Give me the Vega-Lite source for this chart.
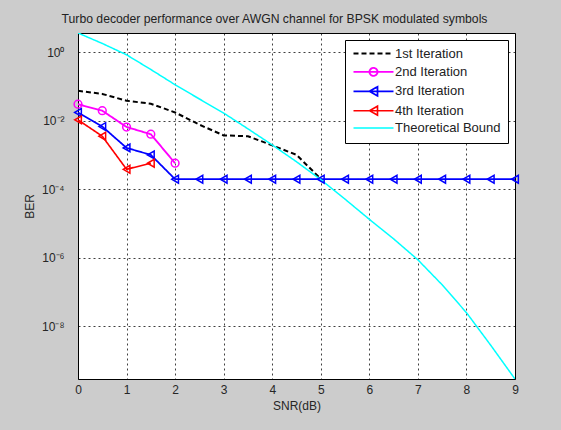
{
  "$schema": "https://vega.github.io/schema/vega-lite/v6.json",
  "width": 437,
  "height": 346,
  "autosize": {"type": "none"},
  "padding": {"left": 78, "top": 33, "right": 46, "bottom": 51},
  "background": "#cccccc",
  "title": {
    "text": "Turbo decoder performance over AWGN channel for BPSK modulated symbols",
    "font": "Liberation Sans",
    "fontSize": 12.2,
    "fontWeight": "normal",
    "color": "#222222",
    "anchor": "middle",
    "frame": "group",
    "dx": -22,
    "offset": 8
  },
  "config": {
    "view": {"stroke": "#000000", "strokeWidth": 1, "fill": "#ffffff"},
    "axis": {
      "labelFont": "Liberation Sans",
      "titleFont": "Liberation Sans",
      "labelFontSize": 12,
      "titleFontSize": 12,
      "titleFontWeight": "normal",
      "labelColor": "#262626",
      "titleColor": "#262626",
      "domain": false,
      "grid": true,
      "gridColor": "#000000",
      "gridOpacity": 0.75,
      "gridDash": [2, 3],
      "gridWidth": 1,
      "ticks": false,
      "labelFlush": false
    }
  },
  "data": {
    "values": [
      {"series": "1st Iteration", "snr": 0, "ber": 0.074},
      {"series": "1st Iteration", "snr": 0.5, "ber": 0.060},
      {"series": "1st Iteration", "snr": 1, "ber": 0.038},
      {"series": "1st Iteration", "snr": 1.5, "ber": 0.031},
      {"series": "1st Iteration", "snr": 2, "ber": 0.0173},
      {"series": "1st Iteration", "snr": 2.5, "ber": 0.0076},
      {"series": "1st Iteration", "snr": 3, "ber": 0.0037},
      {"series": "1st Iteration", "snr": 3.5, "ber": 0.0035},
      {"series": "1st Iteration", "snr": 4, "ber": 0.0019},
      {"series": "1st Iteration", "snr": 4.5, "ber": 0.001},
      {"series": "1st Iteration", "snr": 5, "ber": 0.0002},
      {"series": "2nd Iteration", "snr": 0, "ber": 0.030},
      {"series": "2nd Iteration", "snr": 0.5, "ber": 0.0194},
      {"series": "2nd Iteration", "snr": 1, "ber": 0.0065},
      {"series": "2nd Iteration", "snr": 1.5, "ber": 0.0040},
      {"series": "2nd Iteration", "snr": 2, "ber": 0.00057},
      {"series": "3rd Iteration", "snr": 0, "ber": 0.0173},
      {"series": "3rd Iteration", "snr": 0.5, "ber": 0.0067},
      {"series": "3rd Iteration", "snr": 1, "ber": 0.0016},
      {"series": "3rd Iteration", "snr": 1.5, "ber": 0.001},
      {"series": "3rd Iteration", "snr": 2, "ber": 0.000195},
      {"series": "3rd Iteration", "snr": 2.5, "ber": 0.000195},
      {"series": "3rd Iteration", "snr": 3, "ber": 0.000195},
      {"series": "3rd Iteration", "snr": 3.5, "ber": 0.000195},
      {"series": "3rd Iteration", "snr": 4, "ber": 0.000195},
      {"series": "3rd Iteration", "snr": 4.5, "ber": 0.000195},
      {"series": "3rd Iteration", "snr": 5, "ber": 0.000195},
      {"series": "3rd Iteration", "snr": 5.5, "ber": 0.000195},
      {"series": "3rd Iteration", "snr": 6, "ber": 0.000195},
      {"series": "3rd Iteration", "snr": 6.5, "ber": 0.000195},
      {"series": "3rd Iteration", "snr": 7, "ber": 0.000195},
      {"series": "3rd Iteration", "snr": 7.5, "ber": 0.000195},
      {"series": "3rd Iteration", "snr": 8, "ber": 0.000195},
      {"series": "3rd Iteration", "snr": 8.5, "ber": 0.000195},
      {"series": "3rd Iteration", "snr": 9, "ber": 0.000195},
      {"series": "4th Iteration", "snr": 0, "ber": 0.0105},
      {"series": "4th Iteration", "snr": 0.5, "ber": 0.0035},
      {"series": "4th Iteration", "snr": 1, "ber": 0.00038},
      {"series": "4th Iteration", "snr": 1.5, "ber": 0.00057},
      {"series": "Theoretical Bound", "snr": 0, "ber": 3.59},
      {"series": "Theoretical Bound", "snr": 0.5, "ber": 1.78},
      {"series": "Theoretical Bound", "snr": 1, "ber": 0.83},
      {"series": "Theoretical Bound", "snr": 1.5, "ber": 0.309},
      {"series": "Theoretical Bound", "snr": 2, "ber": 0.111},
      {"series": "Theoretical Bound", "snr": 2.5, "ber": 0.0427},
      {"series": "Theoretical Bound", "snr": 3, "ber": 0.0166},
      {"series": "Theoretical Bound", "snr": 3.5, "ber": 0.00575},
      {"series": "Theoretical Bound", "snr": 4, "ber": 0.00195},
      {"series": "Theoretical Bound", "snr": 4.5, "ber": 0.00063},
      {"series": "Theoretical Bound", "snr": 5, "ber": 0.00019},
      {"series": "Theoretical Bound", "snr": 5.5, "ber": 0.000051},
      {"series": "Theoretical Bound", "snr": 6, "ber": 0.0000132},
      {"series": "Theoretical Bound", "snr": 6.5, "ber": 0.00000355},
      {"series": "Theoretical Bound", "snr": 7, "ber": 0.00000087},
      {"series": "Theoretical Bound", "snr": 7.5, "ber": 0.000000162},
      {"series": "Theoretical Bound", "snr": 8, "ber": 0.000000025},
      {"series": "Theoretical Bound", "snr": 8.5, "ber": 0.0000000028},
      {"series": "Theoretical Bound", "snr": 9, "ber": 0.00000000029}
    ]
  },
  "encoding": {
    "x": {
      "field": "snr",
      "type": "quantitative",
      "scale": {"domain": [0, 9], "nice": false, "zero": false},
      "axis": {"values": [0, 1, 2, 3, 4, 5, 6, 7, 8, 9], "title": "SNR(dB)", "labelPadding": 5, "titlePadding": 5}
    },
    "y": {
      "field": "ber",
      "type": "quantitative",
      "scale": {"type": "log", "domain": [0.00000000029, 3.59], "nice": false},
      "axis": {
        "values": [1, 0.01, 0.0001, 0.000001, 0.00000001],
        "labelExpr": "datum.value >= 0.5 ? '10⁰' : datum.value > 0.001 ? '10⁻²' : datum.value > 0.00001 ? '10⁻⁴' : datum.value > 0.0000001 ? '10⁻⁶' : '10⁻⁸'",
        "title": "BER",
        "labelPadding": 14,
        "titlePadding": 5
      }
    },
    "color": {
      "field": "series",
      "type": "nominal",
      "scale": {
        "domain": ["1st Iteration", "2nd Iteration", "3rd Iteration", "4th Iteration", "Theoretical Bound"],
        "range": ["#000000", "#ff00ff", "#0000ff", "#ff0000", "#00ffff"]
      }
    }
  },
  "layer": [
    {
      "mark": {"type": "line", "clip": true},
      "encoding": {
        "color": {
          "field": "series",
          "type": "nominal",
          "legend": {
            "title": null,
            "orient": "top-right",
            "offset": 7,
            "padding": 7,
            "fillColor": "#ffffff",
            "strokeColor": "#000000",
            "labelFont": "Liberation Sans",
            "labelFontSize": 13,
            "labelColor": "#222222",
            "symbolSize": 100,
            "symbolOffset": 15,
            "labelOffset": 15,
            "rowPadding": 2.4,
            "symbolStrokeWidth": 2,
            "encode": {
              "symbols": {
                "update": {
                  "shape": {"signal": "datum.value == '2nd Iteration' ? 'M-4,0H4M0.8,0A0.8,0.8 0 1,1 -0.8,0A0.8,0.8 0 1,1 0.8,0' : (datum.value == '3rd Iteration' || datum.value == '4th Iteration') ? 'M-4,0H4M-0.8,0L0.8,-0.9L0.8,0.9Z' : 'M-4,0H4'"},
                  "strokeDash": {"signal": "datum.value == '1st Iteration' ? [5,3] : [1,0]"},
                  "fill": {"value": "transparent"},
                  "strokeWidth": {"value": 2}
                }
              }
            }
          }
        },
        "strokeDash": {
          "field": "series",
          "type": "nominal",
          "legend": null,
          "scale": {
            "domain": ["1st Iteration", "2nd Iteration", "3rd Iteration", "4th Iteration", "Theoretical Bound"],
            "range": [[5, 3], [1, 0], [1, 0], [1, 0], [1, 0]]
          }
        },
        "strokeWidth": {
          "field": "series",
          "type": "nominal",
          "legend": null,
          "scale": {
            "domain": ["1st Iteration", "2nd Iteration", "3rd Iteration", "4th Iteration", "Theoretical Bound"],
            "range": [2, 1.5, 2, 1.3, 2]
          }
        }
      }
    },
    {
      "transform": [{"filter": {"field": "series", "oneOf": ["2nd Iteration", "3rd Iteration", "4th Iteration"]}}],
      "mark": {"type": "point", "filled": false, "size": 60, "strokeWidth": 1.5, "opacity": 1},
      "encoding": {
        "shape": {
          "field": "series",
          "type": "nominal",
          "legend": null,
          "scale": {
            "domain": ["2nd Iteration", "3rd Iteration", "4th Iteration"],
            "range": ["circle", "triangle-left", "triangle-left"]
          }
        }
      }
    }
  ]
}
